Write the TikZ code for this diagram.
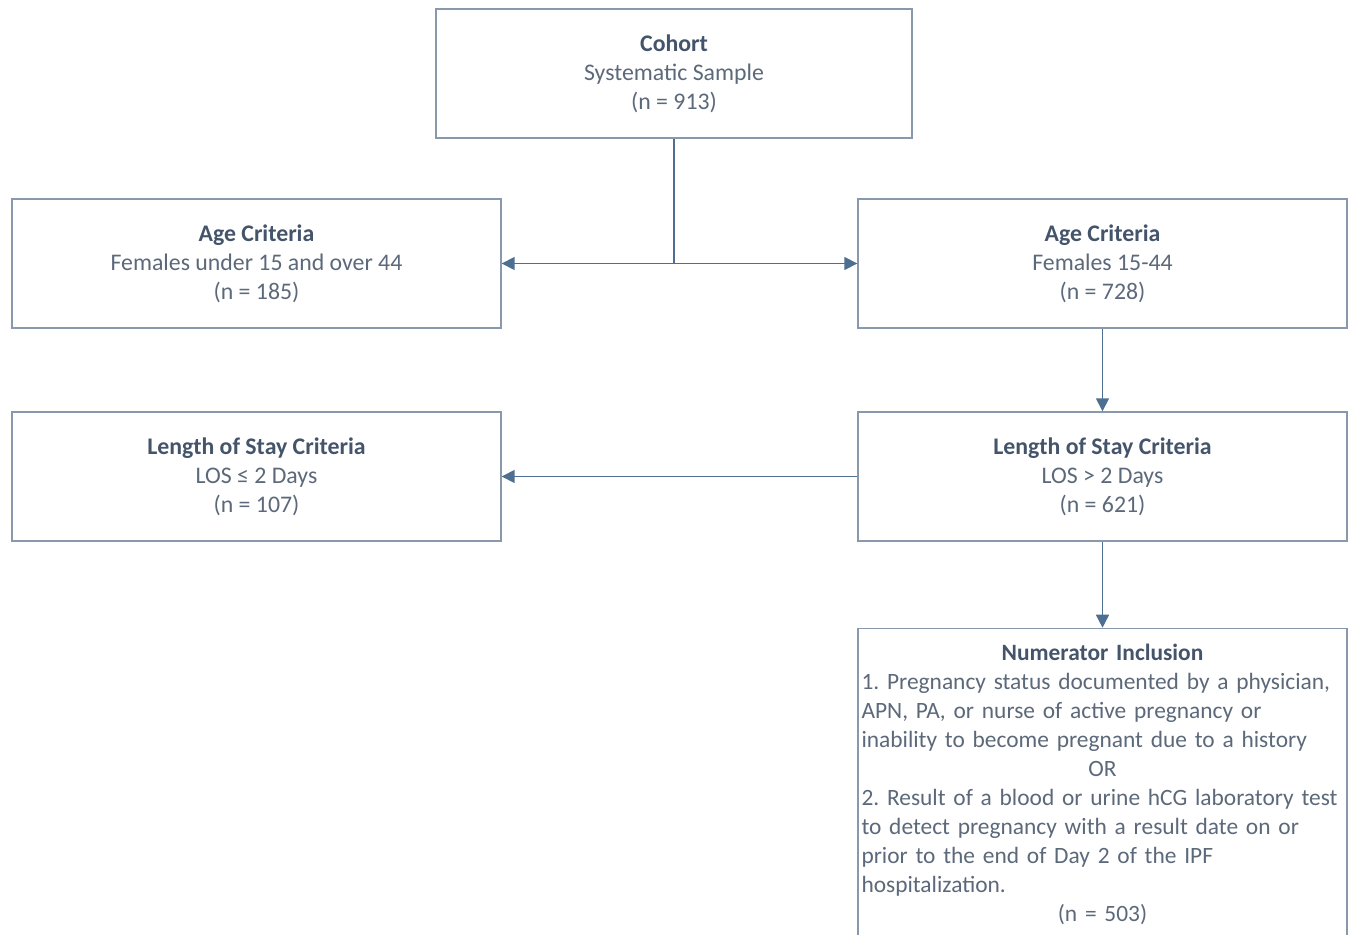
\documentclass[tikz,border=0pt]{standalone}
\usepackage{fontspec}
\setmainfont{Carlito}
\usepackage{tikz}
\usetikzlibrary{arrows.meta,positioning}
\definecolor{ttl}{RGB}{68,84,106}
\definecolor{txt}{RGB}{92,105,122}
\definecolor{edge}{RGB}{138,152,172}
\definecolor{link}{RGB}{78,110,146}
\tikzset{
  box/.style={draw=edge,line width=0.7pt,fill=white,inner sep=0pt,
    font=\fontsize{11.9}{14.5}\selectfont\frenchspacing,text=txt,align=center,
    minimum width=244.5pt,minimum height=64.5pt},
  note/.style={box,align=left,text width=241pt,inner xsep=1.75pt,
    inner ysep=7.75pt,anchor=north,
    font=\fontsize{11.7}{14.5}\selectfont\frenchspacing},
  arr/.style={-{Triangle[length=6.5pt,width=6.5pt]},line width=0.8pt,link},
  lnk/.style={line width=0.8pt,link},
}
\newcommand{\hd}[1]{\textcolor{ttl}{\textbf{#1}}}
\newcommand{\midline}[1]{\leavevmode\hbox to\hsize{\hfil#1\hfil}}

\begin{document}
\begin{tikzpicture}[x=0.5pt,y=-0.5pt]
  \useasboundingbox (0,0) rectangle (1348,935);
  \clip (0,0) rectangle (1348,935);
  \node[box,minimum width=238pt] (cohort) at (674,73.5)
    {\hd{Cohort}\\Systematic Sample\\(n = 913)};
  \node[box] (ageL) at (256.5,263.5)
    {\hd{Age Criteria}\\Females under 15 and over 44\\(n = 185)};
  \node[box] (ageR) at (1102.5,263.5)
    {\hd{Age Criteria}\\Females 15-44\\(n = 728)};
  \node[box] (losL) at (256.5,476.5)
    {\hd{Length of Stay Criteria}\\LOS ≤ 2 Days\\(n = 107)};
  \node[box] (losR) at (1102.5,476.5)
    {\hd{Length of Stay Criteria}\\LOS > 2 Days\\(n = 621)};
  \node[note,below=43pt of losR] (num)
    {\midline{\hd{Numerator Inclusion}}\\
     \mbox{1. Pregnancy status documented by a physician,}\\
     APN, PA, or nurse of active pregnancy or\\
     inability to become pregnant due to a history\\
     \midline{OR}\\
     \mbox{2. Result of a blood or urine hCG laboratory test}\\
     to detect pregnancy with a result date on or\\
     prior to the end of Day 2 of the IPF\\
     hospitalization.\\
     \midline{(n = 503)}};

  \draw[lnk] (cohort.south) -- (cohort.south |- ageL.east) coordinate (fork);
  \draw[arr] (fork) -- (ageL.east);
  \draw[arr] (fork) -- (ageR.west);
  \draw[arr] (ageR.south) -- (losR.north);
  \draw[arr] (losR.west) -- (losL.east);
  \draw[arr] (losR.south) -- (num.north);
\end{tikzpicture}
\end{document}
